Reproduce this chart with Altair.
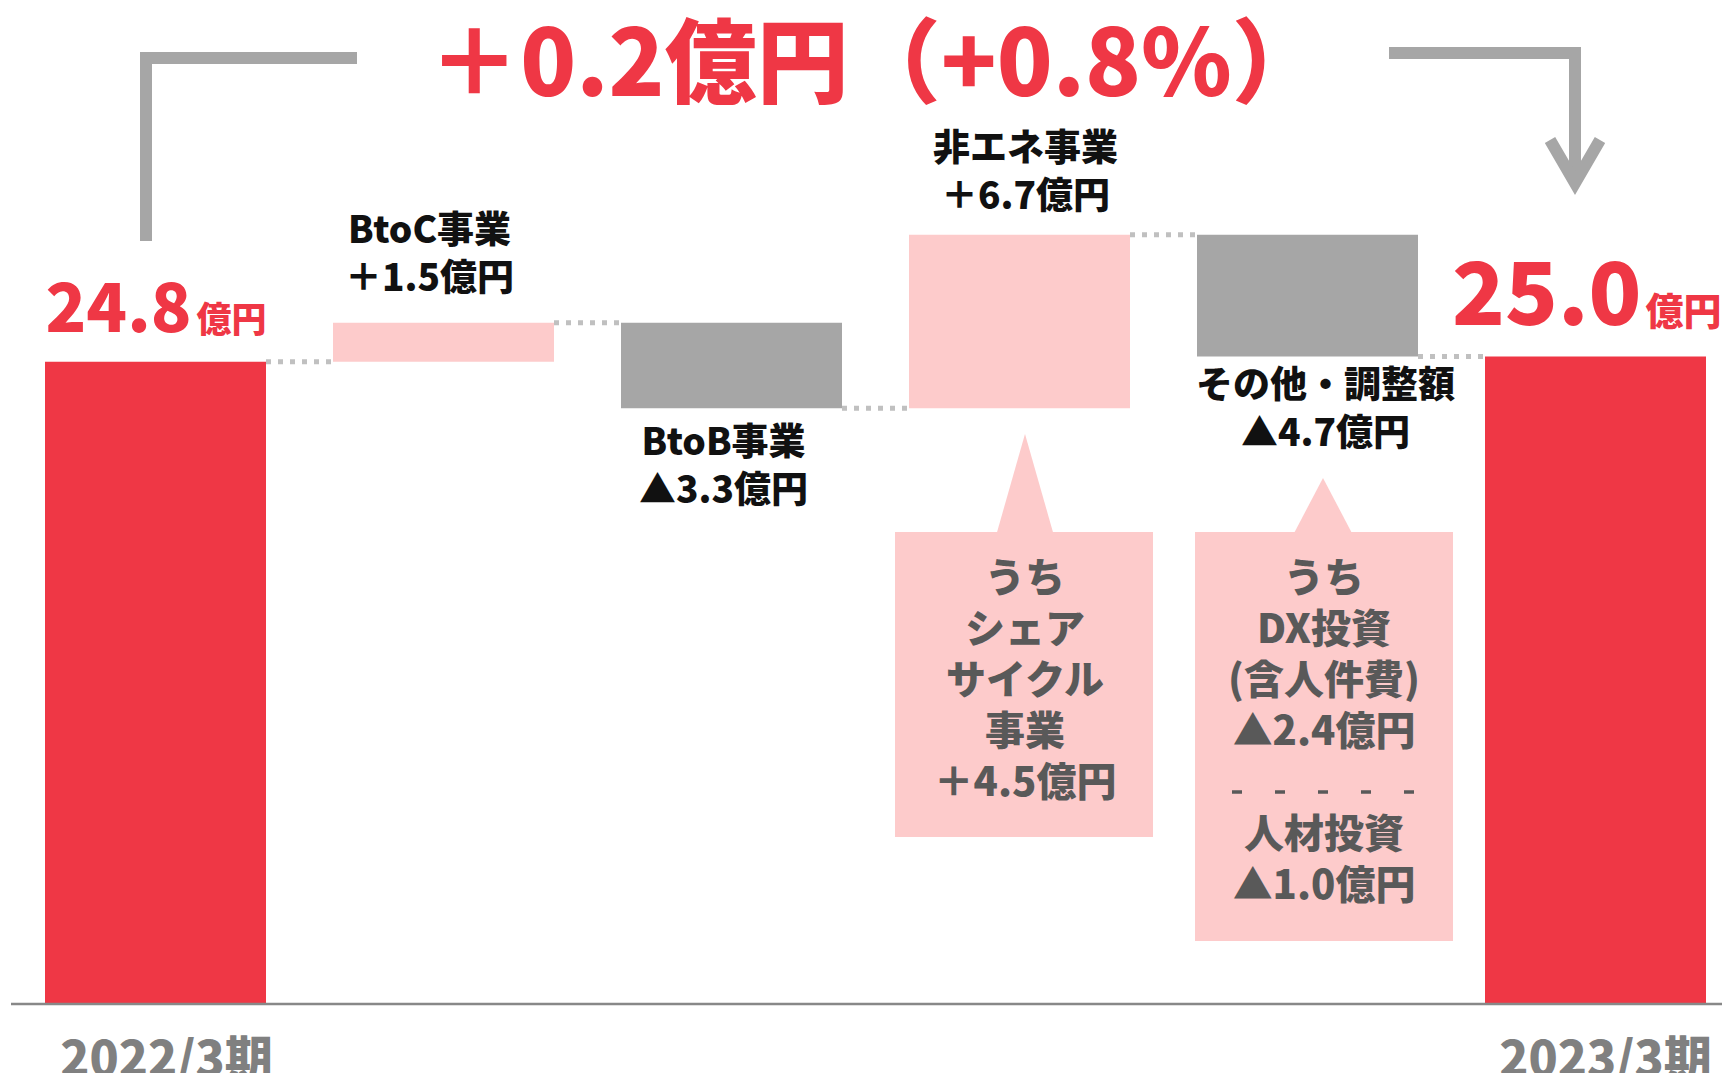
import altair as alt
import pandas as pd

# ---------------- data ----------------
categories = ["2022/3期", "BtoC事業", "BtoB事業", "非エネ事業", "その他・調整額", "2023/3期"]
start_value = 24.8
changes = [1.5, -3.3, 6.7, -4.7]
end_value = 25.0
change_labels = ["＋1.5億円", "▲3.3億円", "＋6.7億円", "▲4.7億円"]
total_labels = ["24.8", "25.0"]
unit_label = "億円"
title_text = "＋0.2億円（+0.8%）"
callout1_lines = ["うち", "シェア", "サイクル", "事業", "＋4.5億円"]
callout2_top_lines = ["うち", "DX投資", "(含人件費)", "▲2.4億円"]
callout2_bottom_lines = ["人材投資", "▲1.0億円"]

# ---------------- layout (pixels of the page) ----------------
W, H = 1714, 1065
SLOT = 288.0          # px between category centres
C0_PX = 155.5         # page x of the first category centre
BASE_PX = 1004.0      # page y of value 0
PX_PER_UNIT = 25.9    # px per 億円
HALF = 110.5 / SLOT   # half bar width in category units
LH_LAB = 48
LH_CALL = 51

def xd(px):
    return (px - C0_PX) / SLOT

def yd(py):
    return (BASE_PX - py) / PX_PER_UNIT

XDOM = [xd(8), xd(8 + W)]
YDOM = [yd(8 + H), yd(8)]

RED = "#EF3745"
PINK = "#FDCBCB"
GRAY = "#A6A6A6"
FONT = "Noto Sans CJK JP"
WEIGHT = 900

xs = alt.Scale(domain=XDOM, nice=False, zero=False)
ys = alt.Scale(domain=YDOM, nice=False, zero=False)

def X(f):
    return alt.X(f, type="quantitative", scale=xs, axis=None)

def X2(f):
    return alt.X2(f)

def Y(f):
    return alt.Y(f, type="quantitative", scale=ys, axis=None)

def Y2(f):
    return alt.Y2(f)

# ---------------- waterfall bars ----------------
levels = [start_value]
for c in changes:
    levels.append(round(levels[-1] + c, 4))
rows = [dict(i=0, lo=0.0, hi=start_value, kind="total")]
for k, c in enumerate(changes):
    a, b = levels[k], levels[k + 1]
    rows.append(dict(i=k + 1, lo=min(a, b), hi=max(a, b), kind="up" if c > 0 else "down"))
rows.append(dict(i=len(categories) - 1, lo=0.0, hi=end_value, kind="total"))
bars = pd.DataFrame(rows)
bars["x1"] = bars["i"] - HALF
bars["x2"] = bars["i"] + HALF

bar_layer = alt.Chart(bars).mark_rect().encode(
    x=X("x1"), x2=X2("x2"), y=Y("lo"), y2=Y2("hi"),
    color=alt.Color("kind:N", scale=alt.Scale(domain=["total", "up", "down"],
                                              range=[RED, PINK, GRAY]), legend=None),
)

# connectors
conn = pd.DataFrame([
    dict(x1=k + HALF, x2=k + 1 - HALF, y=levels[k]) for k in range(len(levels))
])
conn_layer = alt.Chart(conn).mark_rule(color="#C0C0C0", strokeWidth=5, strokeDash=[5, 7]).encode(
    x=X("x1"), x2=X2("x2"), y=Y("y")
)

# baseline
base_df = pd.DataFrame([dict(x1=xd(11), x2=XDOM[1], y=0.0)])
base_layer = alt.Chart(base_df).mark_rule(color="#888888", strokeWidth=2.5).encode(
    x=X("x1"), x2=X2("x2"), y=Y("y")
)

# ---------------- step labels ----------------
label_dx = [-14, -8, 6, 18]
label_dy = [-67, 60, -61, 54]   # block centre offset from bar edge (px)
lab_rows = []
for k, c in enumerate(changes):
    r = bars.iloc[k + 1]
    edge = r["hi"] if c > 0 else r["lo"]
    center = BASE_PX - edge * PX_PER_UNIT + label_dy[k]
    first = center - LH_LAB / 2
    lab_rows.append(dict(x=r["i"] + label_dx[k] / SLOT, y=yd(first),
                         t=categories[k + 1] + "\n" + change_labels[k]))
labs = pd.DataFrame(lab_rows)
lab_layer = alt.Chart(labs).mark_text(
    font=FONT, fontWeight=WEIGHT, fontSize=37, color="#111111",
    lineBreak="\n", lineHeight=LH_LAB, align="center", baseline="middle"
).encode(x=X("x"), y=Y("y"), text="t:N")

# ---------------- totals labels ----------------
tot_num = pd.DataFrame([
    dict(x=0 + 36 / SLOT, y=start_value + 30 / PX_PER_UNIT, t=total_labels[0], fs=67),
    dict(x=5 + 46 / SLOT, y=end_value + 32 / PX_PER_UNIT, t=total_labels[1], fs=87),
])
tot_unit = pd.DataFrame([
    dict(x=0 + 41 / SLOT, y=start_value + 30 / PX_PER_UNIT, t=unit_label, fs=35),
    dict(x=5 + 50 / SLOT, y=end_value + 32 / PX_PER_UNIT, t=unit_label, fs=38),
])
tot_num_layer = alt.Chart(tot_num).mark_text(
    font=FONT, fontWeight=WEIGHT, color=RED, align="right", baseline="alphabetic"
).encode(x=X("x"), y=Y("y"), text="t:N", size=alt.Size("fs:Q", scale=None))
tot_unit_layer = alt.Chart(tot_unit).mark_text(
    font=FONT, fontWeight=WEIGHT, color=RED, align="left", baseline="alphabetic"
).encode(x=X("x"), y=Y("y"), text="t:N", size=alt.Size("fs:Q", scale=None))

# period labels under axis
per = pd.DataFrame([
    dict(x=0 + 11 / SLOT, y=yd(1076), t=categories[0]),
    dict(x=5 + 10 / SLOT, y=yd(1076), t=categories[-1]),
])
per_layer = alt.Chart(per).mark_text(
    font=FONT, fontWeight=WEIGHT, fontSize=48, color="#808080", align="center", baseline="alphabetic"
).encode(x=X("x"), y=Y("y"), text="t:N")

# ---------------- title ----------------
title_df = pd.DataFrame([dict(x=xd(876), y=yd(96), t=title_text)])
title_layer = alt.Chart(title_df).mark_text(
    font=FONT, fontWeight=WEIGHT, fontSize=92, color=RED, align="center", baseline="alphabetic"
).encode(x=X("x"), y=Y("y"), text="t:N")

# ---------------- bracket & arrow ----------------
paths = pd.DataFrame([
    dict(p="L", o=0, x=xd(146), y=yd(241)),
    dict(p="L", o=1, x=xd(146), y=yd(58)),
    dict(p="L", o=2, x=xd(357), y=yd(58)),
    dict(p="R", o=0, x=xd(1389), y=yd(53)),
    dict(p="R", o=1, x=xd(1575), y=yd(53)),
    dict(p="R", o=2, x=xd(1575), y=yd(182)),
    dict(p="A", o=0, x=xd(1550), y=yd(140)),
    dict(p="A", o=1, x=xd(1575), y=yd(183)),
    dict(p="A", o=2, x=xd(1600), y=yd(140)),
])
path_layer = alt.Chart(paths).mark_line(
    color=GRAY, strokeWidth=12, strokeJoin="miter", strokeCap="butt"
).encode(x=X("x"), y=Y("y"), detail="p:N", order="o:Q")

# ---------------- callouts ----------------
boxes = pd.DataFrame([
    dict(x1=xd(895), x2=xd(1153), y1=yd(532), y2=yd(837)),
    dict(x1=xd(1195), x2=xd(1453), y1=yd(532), y2=yd(941)),
])
box_layer = alt.Chart(boxes).mark_rect(color=PINK).encode(
    x=X("x1"), x2=X2("x2"), y=Y("y1"), y2=Y2("y2")
)
tri1 = pd.DataFrame([dict(x=xd(1025), y=yd(484))])
tri1_layer = alt.Chart(tri1).mark_point(
    shape="M 0 -1 L 0.57 1 L -0.57 1 Z", size=100 * 100, filled=True, opacity=1, color=PINK, strokeWidth=0
).encode(x=X("x"), y=Y("y"))
tri2 = pd.DataFrame([dict(x=xd(1323), y=yd(506))])
tri2_layer = alt.Chart(tri2).mark_point(
    shape="M 0 -1 L 1.05 1 L -1.05 1 Z", size=56 * 56, filled=True, opacity=1, color=PINK, strokeWidth=0
).encode(x=X("x"), y=Y("y"))

ctext = pd.DataFrame([
    dict(x=xd(1025), y=yd(580), t="\n".join(callout1_lines)),
    dict(x=xd(1324), y=yd(580), t="\n".join(callout2_top_lines)),
    dict(x=xd(1324), y=yd(836), t="\n".join(callout2_bottom_lines)),
])
ctext_layer = alt.Chart(ctext).mark_text(
    font=FONT, fontWeight=WEIGHT, fontSize=40, color="#595959",
    lineBreak="\n", lineHeight=LH_CALL, align="center", baseline="middle"
).encode(x=X("x"), y=Y("y"), text="t:N")

dash_df = pd.DataFrame([dict(x1=xd(1232), x2=xd(1414), y=yd(792))])
dash_layer = alt.Chart(dash_df).mark_rule(color="#595959", strokeWidth=3.5, strokeDash=[10, 33]).encode(
    x=X("x1"), x2=X2("x2"), y=Y("y")
)

chart = alt.layer(
    conn_layer, bar_layer, base_layer, box_layer, tri1_layer, tri2_layer,
    lab_layer, tot_num_layer, tot_unit_layer, per_layer, title_layer,
    path_layer, ctext_layer, dash_layer,
).properties(
    width=W, height=H, autosize=alt.AutoSizeParams(type="none"), padding=0,
    background="white",
).configure_view(strokeWidth=0)

chart.save("out.html", embed_options={"renderer": "svg", "actions": False})
